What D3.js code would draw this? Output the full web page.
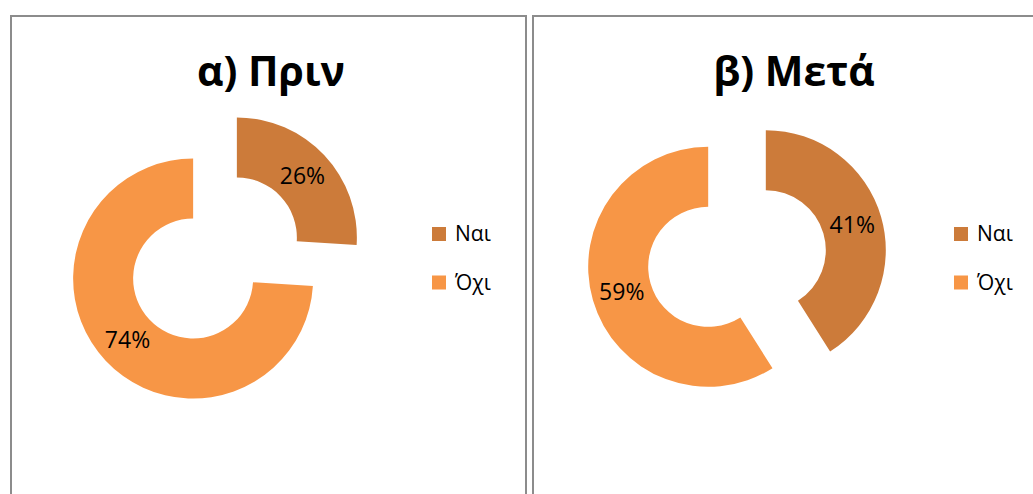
<!DOCTYPE html>
<html lang="el">
<head>
    <meta charset="UTF-8">
    <title>Πριν / Μετά</title>
    <style>
        body { margin: 0; background: #fff; }
        text { font-family: "Open Sans", "Noto Sans", sans-serif; }
    </style>
</head>
<body>
<script src="https://d3js.org/d3.v7.min.js"></script>
<script>
    // data
    const categories = ["Ναι", "Όχι"];
    const beforeValues = [26, 74];
    const afterValues = [41, 59];
    const titles = ["α) Πριν", "β) Μετά"];

    const colors = d3.scaleOrdinal().domain(categories).range(["#cc7b3a", "#f79646"]);

    const width = 1033, height = 494;
    const outerR = 120, innerR = 60, explode = 30;

    const svg = d3.select("body").append("svg")
        .attr("width", width)
        .attr("height", height);

    const panels = [
        {x: 11, w: 515, title: titles[0], values: beforeValues, cx: 215, cy: 258, titleX: 271, legendX: 432},
        {x: 533, w: 520, title: titles[1], values: afterValues, cx: 737, cy: 258.5, titleX: 794, legendX: 954}
    ];

    const pie = d3.pie().sort(null).value(d => d.value);
    const arc = d3.arc().innerRadius(innerR).outerRadius(outerR);
    const labelArc = d3.arc().innerRadius(90).outerRadius(90);

    panels.forEach(p => {
        // frame
        svg.append("rect")
            .attr("x", p.x)
            .attr("y", 16)
            .attr("width", p.w)
            .attr("height", 500)
            .attr("fill", "none")
            .attr("stroke", "#8c8c8c")
            .attr("stroke-width", 2);

        // title
        svg.append("text")
            .attr("x", p.titleX)
            .attr("y", 86)
            .attr("text-anchor", "middle")
            .style("font-size", "41px")
            .style("font-weight", "bold")
            .text(p.title);

        const data = categories.map((c, i) => ({cat: c, value: p.values[i]}));
        const arcs = pie(data);

        const g = svg.append("g")
            .attr("transform", "translate(" + p.cx + "," + p.cy + ")");

        const slices = g.selectAll(".slice")
            .data(arcs)
            .enter().append("g")
            .attr("transform", d => {
                const mid = (d.startAngle + d.endAngle) / 2;
                return "translate(" + (Math.sin(mid) * explode) + "," + (-Math.cos(mid) * explode) + ")";
            });

        slices.append("path")
            .attr("d", arc)
            .attr("fill", d => colors(d.data.cat));

        slices.append("text")
            .attr("transform", d => "translate(" + labelArc.centroid(d) + ")")
            .attr("text-anchor", "middle")
            .attr("dy", "0.36em")
            .style("font-size", "23px")
            .attr("fill", "#000")
            .text(d => d.data.value + "%");

        // legend
        const legend = svg.append("g")
            .selectAll("g")
            .data(categories)
            .enter().append("g")
            .attr("transform", (d, i) => "translate(" + p.legendX + "," + (227 + i * 48.5) + ")");

        legend.append("rect")
            .attr("width", 14)
            .attr("height", 14)
            .attr("fill", d => colors(d));

        legend.append("text")
            .attr("x", 23)
            .attr("y", 14)
            .style("font-size", "21px")
            .attr("fill", "#000")
            .text(d => d);
    });
</script>
</body>
</html>
